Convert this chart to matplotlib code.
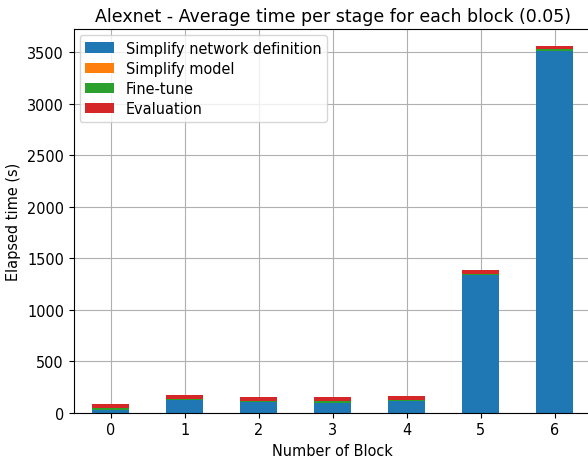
import numpy as np
import matplotlib
matplotlib.use("Agg")
import matplotlib.pyplot as plt

blocks = ["0", "1", "2", "3", "4", "5", "6"]
network_def = [27, 126, 103, 94, 116, 1340, 3510]
simplify_model = [1, 1, 1, 1, 1, 1, 1]
fine_tune = [20, 10, 13, 23, 10, 10, 20]
evaluation = [40, 36, 36, 36, 36, 37, 30]

series = [
    ("Simplify network definition", network_def, "C0"),
    ("Simplify model", simplify_model, "C1"),
    ("Fine-tune", fine_tune, "C2"),
    ("Evaluation", evaluation, "C3"),
]

plt.rcParams["font.size"] = 10.45

fig = plt.figure(figsize=(5.88, 4.6), dpi=100)
ax = fig.add_axes([73.7 / 588, 46.3 / 460, 518 / 588, 383.7 / 460])

x = np.arange(len(blocks))
bottom = np.zeros(len(blocks))
for label, vals, color in series:
    ax.bar(x, vals, width=0.5, bottom=bottom, color=color, label=label)
    bottom += np.array(vals)

ax.set_xlim(-0.5, 6.5)
ax.set_ylim(0, 3725)
ax.set_xticks(x)
ax.set_xticklabels(blocks)
ax.grid(True)
ax.set_axisbelow(True)
ax.set_xlabel("Number of Block")
ax.set_ylabel("Elapsed time (s)")
ax.set_title("Alexnet - Average time per stage for each block (0.05)", fontsize=12.5)
ax.legend(loc="upper left", labelspacing=0.35, borderaxespad=0.4)

fig.savefig("out.png")
